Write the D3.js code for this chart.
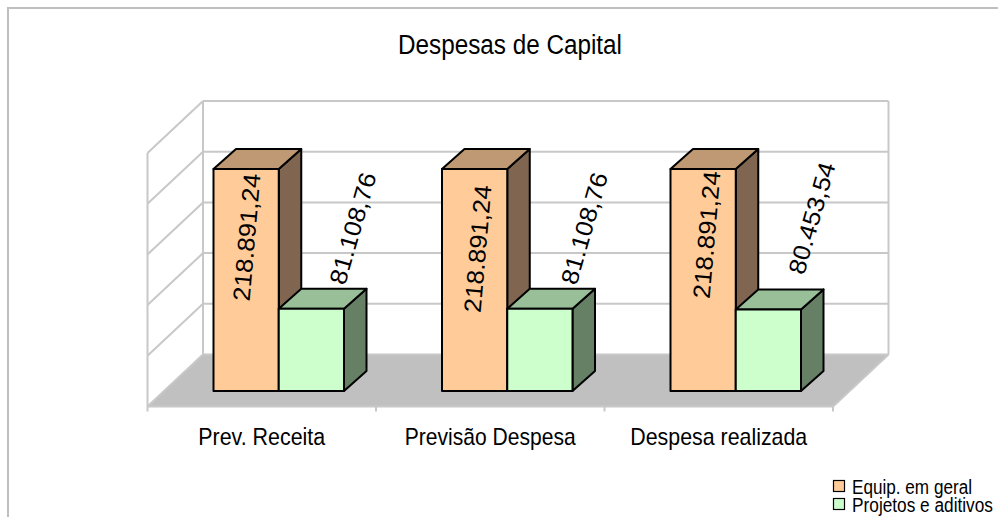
<!DOCTYPE html>
<html>
<head>
<meta charset="utf-8">
<script src="https://cdn.jsdelivr.net/npm/d3@7"></script>
<style>
  html, body { margin: 0; padding: 0; background: #fff; overflow: hidden; }
  text { font-family: "Liberation Sans", Arial, sans-serif; fill: #000; }
</style>
</head>
<body>
<div id="chart"></div>
<script>
const categories = ['Prev. Receita', 'Previsão Despesa', 'Despesa realizada'];
const seriesNames = ['Equip. em geral', 'Projetos e aditivos'];
const equipValues = [218891.24, 218891.24, 218891.24];
const projetosValues = [81108.76, 81108.76, 80453.54];
const yTicks = [0, 50000, 100000, 150000, 200000, 250000];
const equipLabels = ['218.891,24', '218.891,24', '218.891,24'];
const projetosLabels = ['81.108,76', '81.108,76', '80.453,54'];

const width = 998;
const height = 517;
const depthX = 55.5, depthY = 52;    // profundidade do piso
const barDx = 22.5, barDy = 20;      // profundidade das barras
const floorY = 406.5, baseY = 391;

const colors = [
  { front: '#ffcc99', top: '#bf9973', side: '#806650' },
  { front: '#ccffcc', top: '#99bf99', side: '#668066' }
];

const svg = d3.select('#chart').append('svg')
  .attr('width', width)
  .attr('height', height)
  .style('display', 'block');

// texto comprimido na horizontal, a fonte do original é mais estreita
function addText(parent, str, fontSize, targetWidth, place) {
  const t = parent.append('text').attr('font-size', fontSize).attr('text-anchor', 'middle').text(str);
  const k = targetWidth / t.node().getComputedTextLength();
  t.attr('transform', `${place} scale(${k},1)`);
  return t;
}

// moldura (sem borda direita, como no original)
svg.append('path')
  .attr('d', `M8,${height}V8H${width}`)
  .attr('fill', 'none')
  .attr('stroke', '#bfbfbf')
  .attr('stroke-width', 2);

addText(svg, 'Despesas de Capital', 28, 224, 'translate(510,53.5)');

const x = d3.scaleBand().domain(categories).range([147.5, 833]);
const xSeries = d3.scaleBand().domain(seriesNames).range([66, 196.5]);
const y = d3.scaleLinear().domain([0, 250000]).range([baseY, baseY - 253.5]);
const backY = v => y(v) - (baseY - floorY) - depthY;
const frontY = v => y(v) - (baseY - floorY);
const leftX = x.range()[0], rightX = x.range()[1];

// piso
svg.append('polygon')
  .attr('points', [[leftX, floorY], [rightX, floorY], [rightX + depthX, floorY - depthY], [leftX + depthX, floorY - depthY]].join(' '))
  .attr('fill', '#c0c0c0');

// grade
const grid = svg.append('g').attr('stroke', '#c8c8c8').attr('stroke-width', 2).attr('fill', 'none');
yTicks.forEach(t => {
  grid.append('line').attr('x1', leftX + depthX).attr('x2', rightX + depthX).attr('y1', backY(t)).attr('y2', backY(t));
  grid.append('line').attr('x1', leftX).attr('x2', leftX + depthX).attr('y1', frontY(t)).attr('y2', backY(t));
});
grid.append('line').attr('x1', leftX).attr('x2', leftX).attr('y1', frontY(0) + 5).attr('y2', frontY(250000));
grid.append('line').attr('x1', leftX + depthX).attr('x2', leftX + depthX).attr('y1', backY(0)).attr('y2', backY(250000));
grid.append('line').attr('x1', rightX + depthX).attr('x2', rightX + depthX).attr('y1', backY(0)).attr('y2', backY(250000));
grid.append('line').attr('x1', rightX).attr('x2', rightX + depthX).attr('y1', floorY).attr('y2', floorY - depthY);
grid.append('line').attr('x1', leftX).attr('x2', rightX).attr('y1', floorY).attr('y2', floorY);
categories.forEach(c => {
  grid.append('line').attr('x1', x(c) + x.bandwidth()).attr('x2', x(c) + x.bandwidth()).attr('y1', floorY).attr('y2', floorY + 5);
});

// barras
const allValues = [equipValues, projetosValues];
const bars = svg.append('g').attr('stroke', '#000').attr('stroke-width', 2).attr('stroke-linejoin', 'round');
categories.forEach((c, ci) => {
  seriesNames.forEach((s, si) => {
    const v = allValues[si][ci];
    const x0 = x(c) + xSeries(s);
    const x1 = x0 + xSeries.bandwidth();
    const yTop = y(v);
    const g = bars.append('g');
    g.append('polygon')
      .attr('points', [[x1, yTop], [x1 + barDx, yTop - barDy], [x1 + barDx, baseY - barDy], [x1, baseY]].join(' '))
      .attr('fill', colors[si].side);
    g.append('polygon')
      .attr('points', [[x0, yTop], [x0 + barDx, yTop - barDy], [x1 + barDx, yTop - barDy], [x1, yTop]].join(' '))
      .attr('fill', colors[si].top);
    g.append('rect')
      .attr('x', x0).attr('y', yTop)
      .attr('width', x1 - x0).attr('height', baseY - yTop)
      .attr('fill', colors[si].front);
  });
});

// rótulos de valor: deslocamentos, cada um tem o seu
const equipOffsets = [[41.5, 69], [44, 80.5], [44.5, 66.5]];
const projetosOffsets = [[82, -78], [85, -78], [84, -89]];
categories.forEach((c, ci) => {
  const bx0 = x(c) + xSeries(seriesNames[0]);
  addText(svg, equipLabels[ci], 24, 128,
    `translate(${bx0 + equipOffsets[ci][0]},${y(equipValues[ci]) + equipOffsets[ci][1]}) rotate(-85)`);
  const bx1 = x(c) + xSeries(seriesNames[1]);
  addText(svg, projetosLabels[ci], 24, 115,
    `translate(${bx1 + projetosOffsets[ci][0]},${y(projetosValues[ci]) + projetosOffsets[ci][1]}) rotate(-74)`);
});

// categorias
const categoryWidths = [127, 171, 177];
categories.forEach((c, i) => {
  addText(svg, c, 23, categoryWidths[i], `translate(${x(c) + x.bandwidth() / 2},444.5)`);
});

// legenda
const legendWidths = [120, 141];
seriesNames.forEach((s, i) => {
  const ly = 494 + i * 18;
  svg.append('rect')
    .attr('x', 833.5).attr('y', ly - 13.5)
    .attr('width', 11).attr('height', 11)
    .attr('fill', colors[i].front)
    .attr('stroke', '#000').attr('stroke-width', 1.2);
  addText(svg, s, 20, legendWidths[i], `translate(${852 + legendWidths[i] / 2},${ly})`);
});
</script>
</body>
</html>
